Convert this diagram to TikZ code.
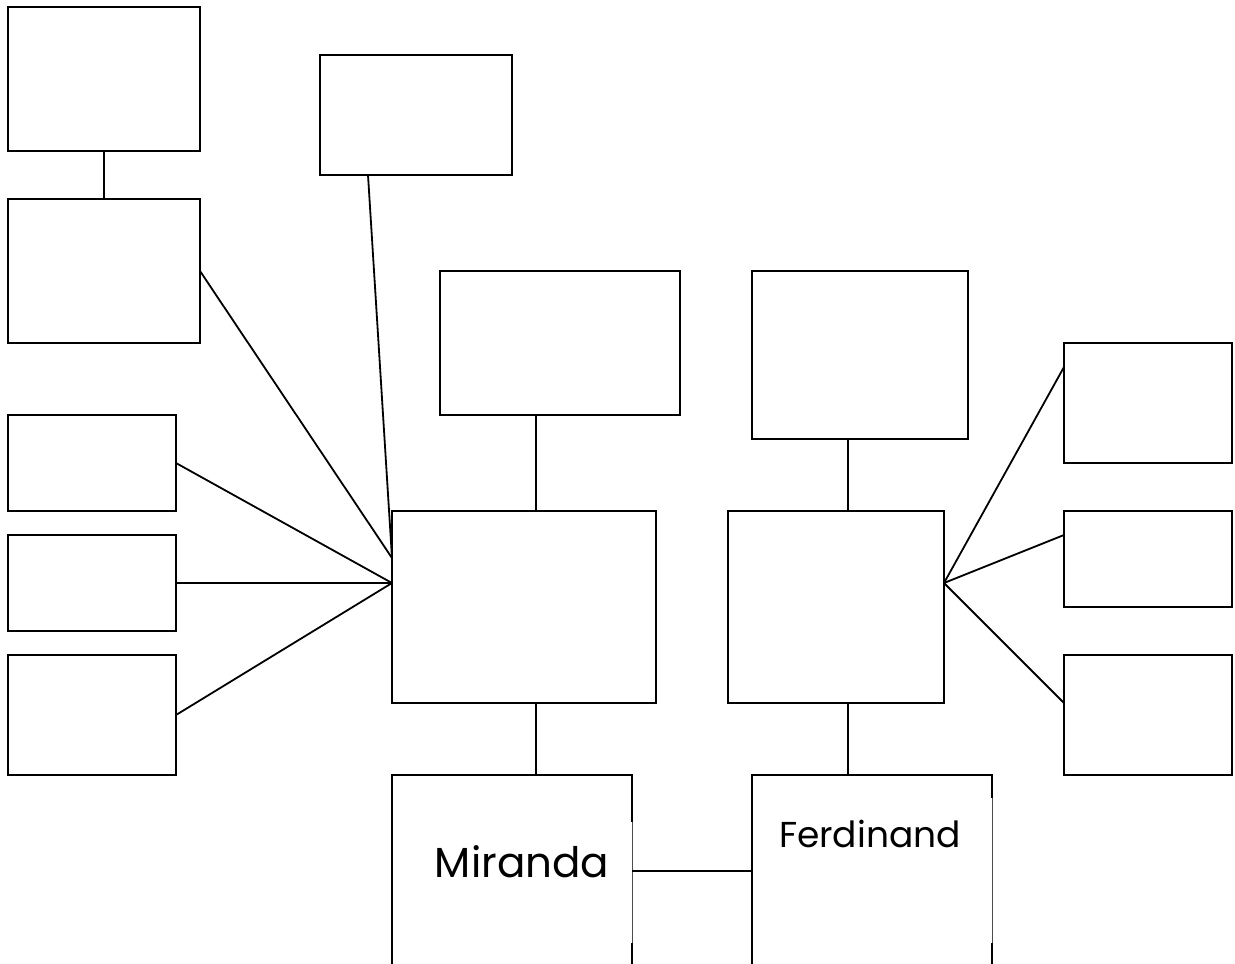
\documentclass[tikz,border=0pt]{standalone}
\usepackage{fontspec}
\setmainfont{Poppins}
\begin{document}
\begin{tikzpicture}[x=1pt,y=-1pt,
  box/.style={draw=black,line width=2pt,fill=white,inner sep=0pt,outer sep=0pt,anchor=north west},
  open/.style={inner sep=0pt,outer sep=0pt,anchor=north west},
  conn/.style={draw=black,line width=1.8pt},
  thin/.style={draw=black!70,line width=0.8pt}]
\useasboundingbox[fill=white] (0,0) rectangle (1235,964);
\clip (0,0) rectangle (1235,964);
\coordinate (gl) at (392,558);
\coordinate (gm) at (392,583);
\coordinate (jr) at (944,583);
% boxes
\node[box,minimum width=192pt,minimum height=144pt] (A) at (8,7) {};
\node[box,minimum width=192pt,minimum height=144pt] (B) at (8,199) {};
\node[box,minimum width=192pt,minimum height=120pt] (C) at (320,55) {};
\node[box,minimum width=168pt,minimum height=96pt] (D) at (8,415) {};
\node[box,minimum width=168pt,minimum height=96pt] (E) at (8,535) {};
\node[box,minimum width=168pt,minimum height=120pt] (F) at (8,655) {};
\node[box,minimum width=264pt,minimum height=192pt] (G) at (392,511) {};
\node[box,minimum width=240pt,minimum height=144pt] (H) at (440,271) {};
\node[box,minimum width=216pt,minimum height=192pt] (J) at (728,511) {};
\node[box,minimum width=216pt,minimum height=168pt] (K) at (752,271) {};
\node[box,minimum width=168pt,minimum height=120pt] (L) at (1064,343) {};
\node[box,minimum width=168pt,minimum height=96pt] (M) at (1064,511) {};
\node[box,minimum width=168pt,minimum height=120pt] (N) at (1064,655) {};
\node[open,minimum width=240pt,minimum height=200pt] (I) at (392,775) {};
\node[open,minimum width=240pt,minimum height=200pt] (O) at (752,775) {};
% open-bottom boxes
\draw[conn] (I.south west) -- (I.north west) -- (I.north east) -- ([yshift=-47pt]I.north east);
\draw[thin] ([yshift=-47pt]I.north east) -- ([yshift=-168pt]I.north east);
\draw[conn] ([yshift=-168pt]I.north east) -- (I.south east);
\draw[conn] (O.south west) -- (O.north west) -- (O.north east) -- ([yshift=-23pt]O.north east);
\draw[thin] ([yshift=-23pt]O.north east) -- ([yshift=-168pt]O.north east);
\draw[conn] ([yshift=-168pt]O.north east) -- (O.south east);
% connectors
\draw[conn] (A.south) -- (B.north);
\draw[conn] (B.east) -- (gl);
\draw[conn] ([xshift=-144pt]C.south east) -- (gl);
\draw[conn] (D.east) -- (gm);
\draw[conn] (E.east) -- (gm);
\draw[conn] (F.east) -- (gm);
\draw[conn] ([xshift=-24pt]H.south) -- ([xshift=12pt]G.north);
\draw[conn] ([xshift=12pt]G.south) -- ([xshift=24pt]I.north);
\draw[conn] ([xshift=-12pt]K.south) -- ([xshift=12pt]J.north);
\draw[conn] ([xshift=12pt]J.south) -- ([xshift=-24pt]O.north);
\draw[conn] (jr) -- ([yshift=-24pt]L.north west);
\draw[conn] (jr) -- ([yshift=-24pt]M.north west);
\draw[conn] (jr) -- ([yshift=-48pt]N.north west);
\draw[conn] ([yshift=-96pt]I.north east) -- ([yshift=-96pt]O.north west);
% labels
\node[font=\fontsize{42}{48}\selectfont,inner sep=0pt] (mir) at (522,862) {Miranda};
\node[font=\fontsize{36}{42}\selectfont,inner sep=0pt] (fer) at (870,834) {Ferdinand};
\end{tikzpicture}
\end{document}
